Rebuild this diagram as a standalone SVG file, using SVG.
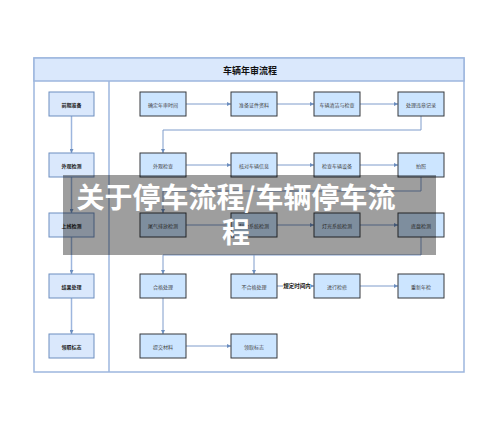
<svg xmlns="http://www.w3.org/2000/svg" width="500" height="431" viewBox="0 0 500 431">
<style>
text{font-family:"Noto Sans CJK SC","Noto Sans",sans-serif;text-anchor:middle;dominant-baseline:central}
.ln{fill:#dae8fc;stroke:#6c8ebf;stroke-width:1}
.lt{font-size:5px;font-weight:bold;fill:#222}
.rn{fill:#cce5ff;stroke:#36393d;stroke-width:1}
.rt{font-size:5px;fill:#444}
.c{fill:none;stroke:#7f9ccb;stroke-width:1}
.lc{fill:none;stroke:#9db6de;stroke-width:1.5}
</style>
<defs>
<marker id="a" viewBox="0 0 6 6" refX="6" refY="3" markerWidth="4" markerHeight="4" markerUnits="userSpaceOnUse" orient="auto">
<path d="M0,0 L6,3 L0,6 Z" fill="#6c8ebf"/>
</marker>
</defs>
<rect width="500" height="431" fill="#fff"/>
<g id="frame">
<rect x="34" y="58" width="430" height="314" fill="#fff" stroke="#9db6de" stroke-width="1.5"/>
<rect x="34" y="58" width="430" height="23" fill="#dae8fc" stroke="#9db6de" stroke-width="1.5"/>
<text x="250" y="70" style="font-size:9px;font-weight:bold;fill:#111">车辆年审流程</text>
<line x1="109" y1="81" x2="109" y2="372" stroke="#9db6de" stroke-width="1.5"/>
</g>
<g id="connectors">
<path class="lc" d="M71.5,116V153" marker-end="url(#a)"/>
<path class="lc" d="M71.5,177V213" marker-end="url(#a)"/>
<path class="lc" d="M71.5,237V274" marker-end="url(#a)"/>
<path class="lc" d="M71.5,298V334" marker-end="url(#a)"/>
<path class="c" d="M186,104H231" marker-end="url(#a)"/>
<path class="c" d="M277,104H314" marker-end="url(#a)"/>
<path class="c" d="M360,104H398" marker-end="url(#a)"/>
<path class="c" d="M421,116V130H163V153" marker-end="url(#a)"/>
<path class="c" d="M186,165H231" marker-end="url(#a)"/>
<path class="c" d="M277,165H314" marker-end="url(#a)"/>
<path class="c" d="M360,165H398" marker-end="url(#a)"/>
<path class="c" d="M421,177V191H163V213" marker-end="url(#a)"/>
<path class="c" d="M186,225H231" marker-end="url(#a)"/>
<path class="c" d="M277,225H314" marker-end="url(#a)"/>
<path class="c" d="M360,225H398" marker-end="url(#a)"/>
<path class="c" d="M421,237V255H163V274" marker-end="url(#a)"/>
<path class="c" d="M254,255V274" marker-end="url(#a)"/>
<path class="c" d="M277,286H314" marker-end="url(#a)"/>
<path class="c" d="M360,286H398" marker-end="url(#a)"/>
<path class="c" d="M163,298V334" marker-end="url(#a)"/>
<path class="c" d="M186,346H231" marker-end="url(#a)"/>
<rect x="283" y="282" width="28" height="8" fill="#fff"/>
<text x="297" y="286" style="font-size:5.5px;font-weight:bold;fill:#111">规定时间内</text>
</g>
<g id="n-prep"><rect class="ln" x="49" y="92" width="45" height="24"/><text class="lt" x="71.5" y="104">前期准备</text></g>
<g id="n-look"><rect class="ln" x="49" y="153" width="45" height="24"/><text class="lt" x="71.5" y="165">外观检测</text></g>
<g id="n-line"><rect class="ln" x="49" y="213" width="45" height="24"/><text class="lt" x="71.5" y="225">上线检测</text></g>
<g id="n-result"><rect class="ln" x="49" y="274" width="45" height="24"/><text class="lt" x="71.5" y="286">结果处理</text></g>
<g id="n-mark"><rect class="ln" x="49" y="334" width="45" height="24"/><text class="lt" x="71.5" y="346">领取标志</text></g>
<g id="r1c1"><rect class="rn" x="140" y="92" width="46" height="24"/><text class="rt" x="163" y="104">确定年审时间</text></g>
<g id="r1c2"><rect class="rn" x="231" y="92" width="46" height="24"/><text class="rt" x="254" y="104">准备证件资料</text></g>
<g id="r1c3"><rect class="rn" x="314" y="92" width="46" height="24"/><text class="rt" x="337" y="104">车辆清洁与检查</text></g>
<g id="r1c4"><rect class="rn" x="398" y="92" width="46" height="24"/><text class="rt" x="421" y="104">处理违章记录</text></g>
<g id="r2c1"><rect class="rn" x="140" y="153" width="46" height="24"/><text class="rt" x="163" y="165">外观检查</text></g>
<g id="r2c2"><rect class="rn" x="231" y="153" width="46" height="24"/><text class="rt" x="254" y="165">核对车辆信息</text></g>
<g id="r2c3"><rect class="rn" x="314" y="153" width="46" height="24"/><text class="rt" x="337" y="165">检查车辆设备</text></g>
<g id="r2c4"><rect class="rn" x="398" y="153" width="46" height="24"/><text class="rt" x="421" y="165">拍照</text></g>
<g id="r3c1"><rect class="rn" x="140" y="213" width="46" height="24"/><text class="rt" x="163" y="225">尾气排放检测</text></g>
<g id="r3c2"><rect class="rn" x="231" y="213" width="46" height="24"/><text class="rt" x="254" y="225">制动系统检测</text></g>
<g id="r3c3"><rect class="rn" x="314" y="213" width="46" height="24"/><text class="rt" x="337" y="225">灯光系统检测</text></g>
<g id="r3c4"><rect class="rn" x="398" y="213" width="46" height="24"/><text class="rt" x="421" y="225">底盘检测</text></g>
<g id="r4c1"><rect class="rn" x="140" y="274" width="46" height="24"/><text class="rt" x="163" y="286">合格处理</text></g>
<g id="r4c2"><rect class="rn" x="231" y="274" width="46" height="24"/><text class="rt" x="254" y="286">不合格处理</text></g>
<g id="r4c3"><rect class="rn" x="314" y="274" width="46" height="24"/><text class="rt" x="337" y="286">进行检修</text></g>
<g id="r4c4"><rect class="rn" x="398" y="274" width="46" height="24"/><text class="rt" x="421" y="286">重新年检</text></g>
<g id="r5c1"><rect class="rn" x="140" y="334" width="46" height="24"/><text class="rt" x="163" y="346">提交材料</text></g>
<g id="r5c2"><rect class="rn" x="231" y="334" width="46" height="24"/><text class="rt" x="254" y="346">领取标志</text></g>
<g id="overlay">
<rect x="63" y="175" width="373" height="80" fill="#000" fill-opacity="0.38"/>
<text x="236" y="196" style="font-size:28px;font-weight:bold;fill:#fff">关于停车流程/车辆停车流</text>
<text x="236" y="231" style="font-size:28px;font-weight:bold;fill:#fff">程</text>
</g>
</svg>
